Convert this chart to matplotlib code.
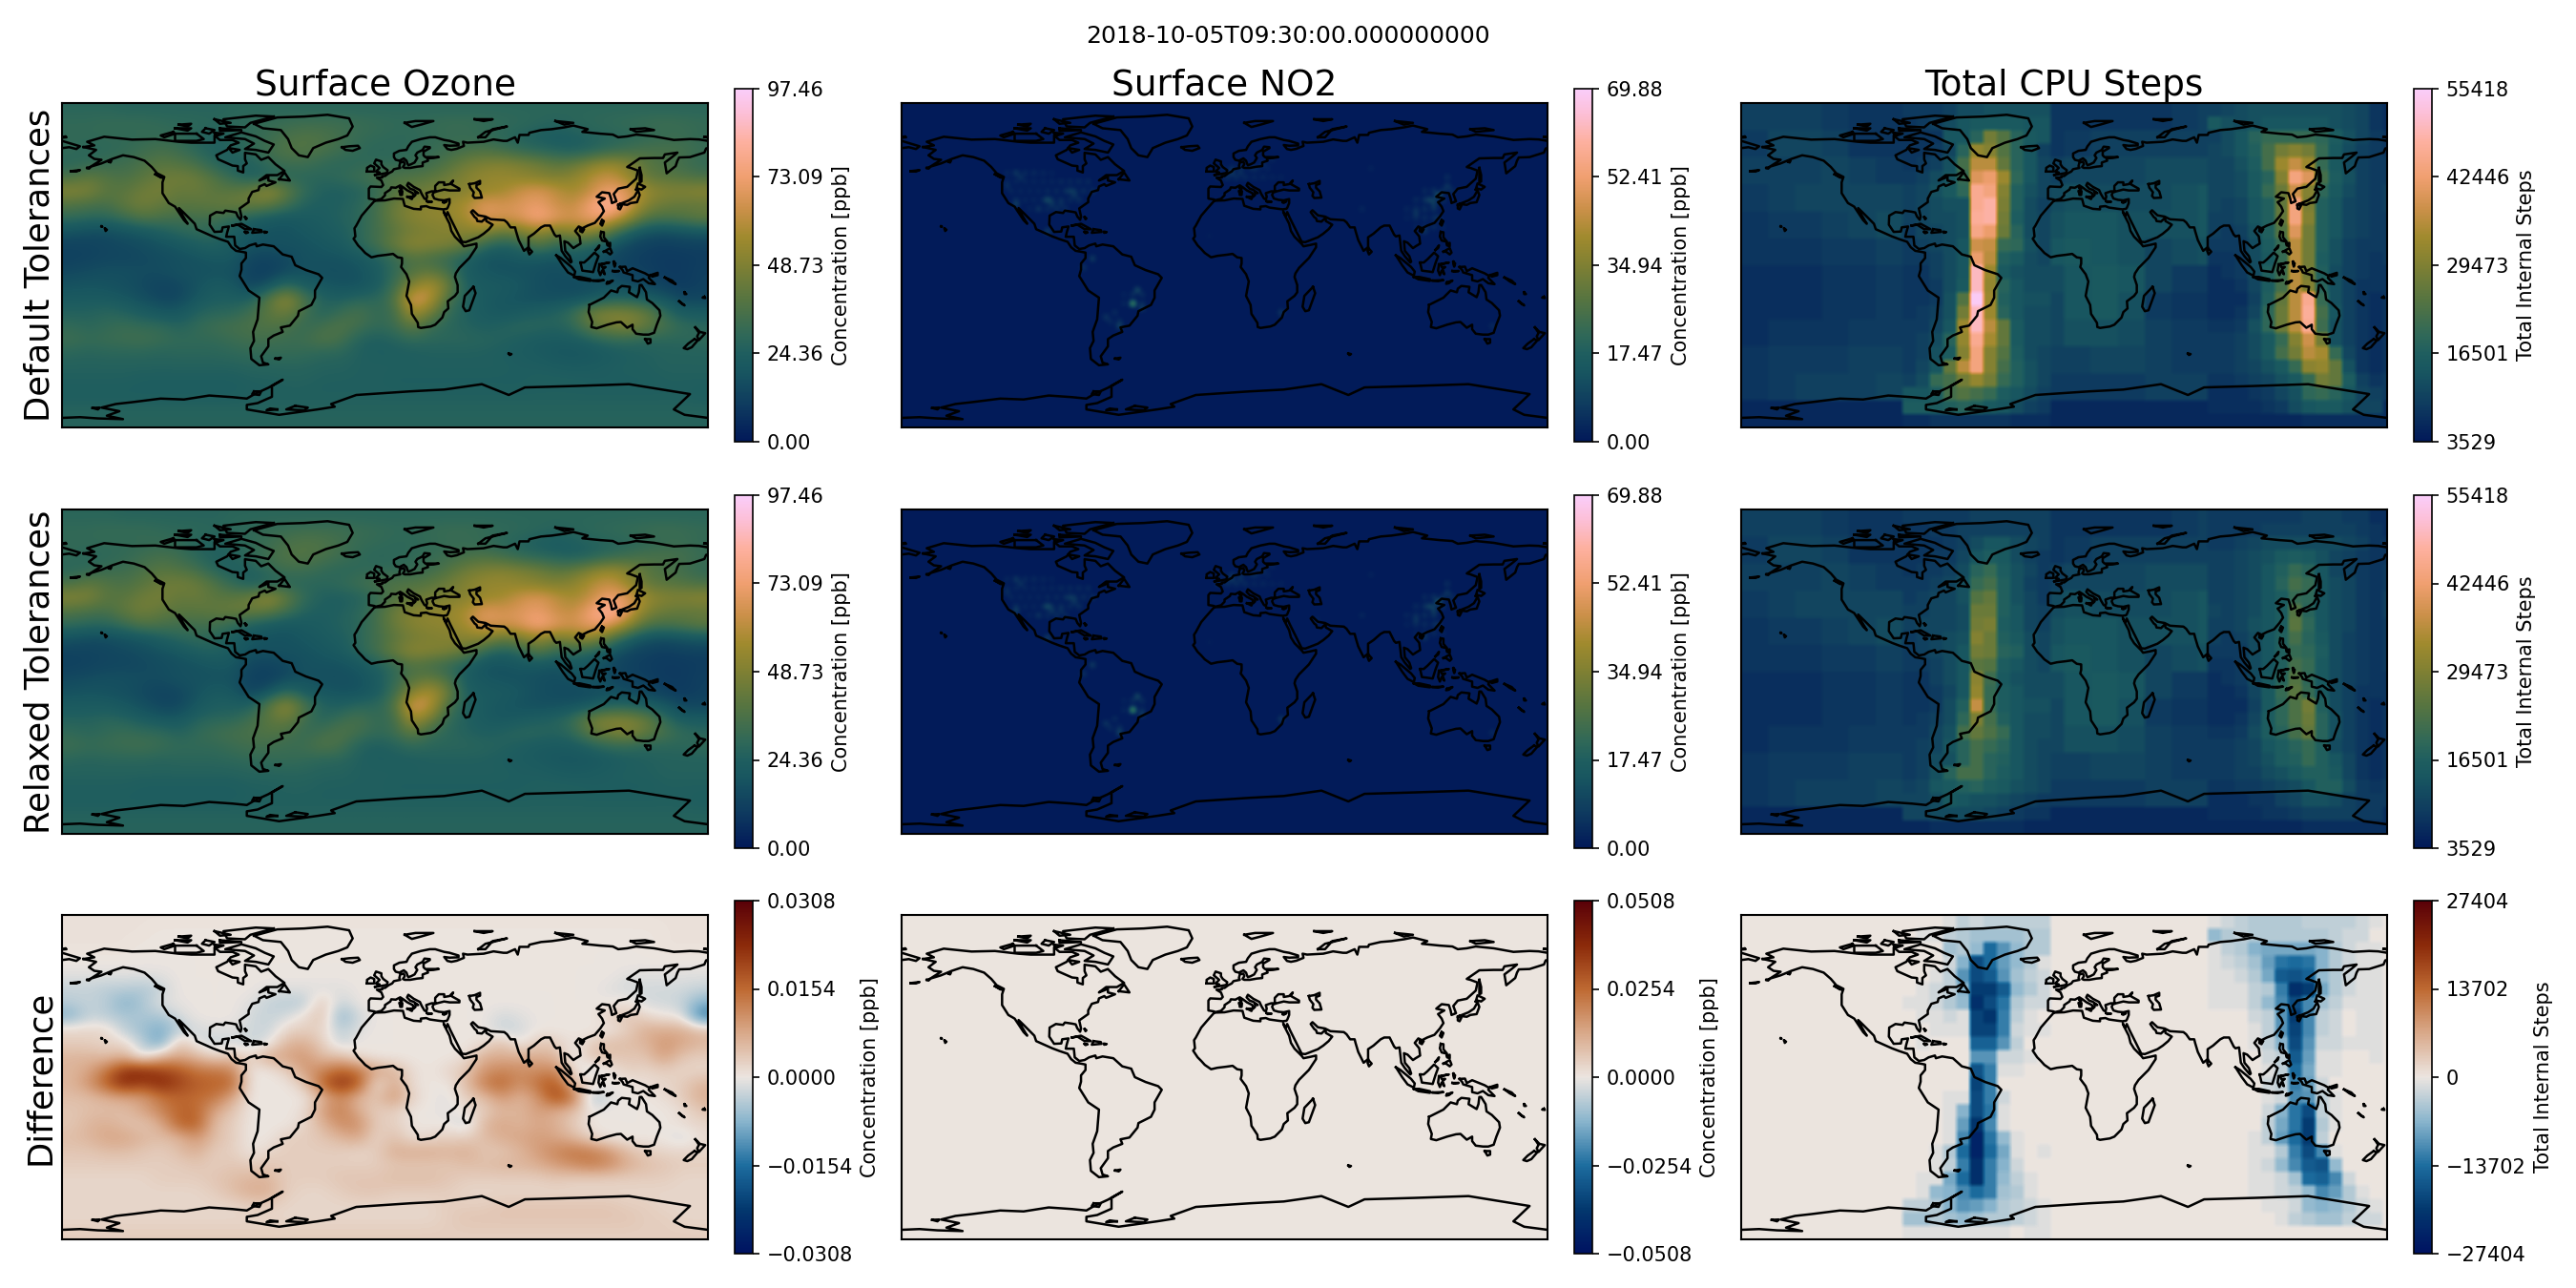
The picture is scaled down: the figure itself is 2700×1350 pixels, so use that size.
import numpy as np
import matplotlib
matplotlib.use("Agg")
import matplotlib.pyplot as plt
from matplotlib.colors import LinearSegmentedColormap

TITLE = "2018-10-05T09:30:00.000000000"
COL_TITLES = ["Surface Ozone", "Surface NO2", "Total CPU Steps"]
ROW_TITLES = ["Default Tolerances", "Relaxed Tolerances", "Difference"]
O3_MAX, NO2_MAX = 97.46, 69.88
O3_DIFF_MAX, NO2_DIFF_MAX = 0.0308, 0.0508
CPU_MIN, CPU_MAX, CPU_DIFF_MAX = 3529, 55418, 27404
O3_TICKS = ["0.00", "24.36", "48.73", "73.09", "97.46"]
NO2_TICKS = ["0.00", "17.47", "34.94", "52.41", "69.88"]
CPU_TICKS = ["3529", "16501", "29473", "42446", "55418"]
O3D_TICKS = ["\u22120.0308", "\u22120.0154", "0.0000", "0.0154", "0.0308"]
NO2D_TICKS = ["\u22120.0508", "\u22120.0254", "0.0000", "0.0254", "0.0508"]
CPUD_TICKS = ["\u221227404", "\u221213702", "0", "13702", "27404"]

# Surface ozone, ppb; rows 86.25N..86.25S every 7.5 deg, columns 175W..175E every 10 deg
O3 = [
[28,28,28,27,27,27,27,27,27,28,28,28,28,28,28,28,28,28,28,28,28,28,28,28,28,28,28,28,28,28,28,28,28,28,28,28],
[30,30,31,31,31,30,29,29,28,29,30,31,32,33,33,33,32,31,30,30,31,32,32,31,30,29,28,27,28,29,30,31,32,33,32,31],
[30,30,30,30,30,31,30,27,25,27,30,32,36,38,37,34,31,30,29,29,30,31,31,30,28,26,24,22,24,26,27,28,29,31,32,30],
[30,28,29,30,33,35,33,28,25,26,30,34,38,38,36,33,30,28,29,30,31,33,35,37,34,30,28,26,24,26,30,33,36,36,35,32],
[28,30,32,33,36,40,38,35,27,24,25,30,33,33,30,28,29,30,30,31,33,38,45,48,50,48,45,40,42,50,55,50,40,36,34,30],
[36,42,38,36,40,44,46,44,38,30,24,26,28,28,28,30,33,36,38,38,40,45,50,54,54,52,50,48,52,60,64,55,42,40,38,36],
[50,48,40,40,45,47,42,44,40,40,44,54,42,30,25,24,26,30,38,42,46,48,50,54,56,64,68,62,56,63,74,68,55,50,50,52],
[38,36,35,42,46,42,40,40,42,44,44,42,34,26,24,25,28,34,44,50,52,54,58,70,66,68,72,64,62,75,84,68,50,44,42,42],
[30,28,28,32,38,36,34,34,34,30,25,22,20,22,23,26,28,34,44,50,52,52,58,68,66,68,78,70,65,74,70,55,38,36,38,42],
[18,16,16,18,20,24,28,30,28,24,20,18,18,20,22,24,28,34,40,46,48,50,50,52,42,48,54,46,52,52,40,25,18,16,18,20],
[13,13,14,15,16,18,20,24,26,22,18,18,18,18,20,22,28,34,44,52,50,48,42,30,25,28,40,30,30,28,20,14,12,11,12,12],
[12,13,14,14,15,16,17,18,20,20,14,13,15,18,18,18,20,25,30,38,34,30,25,18,18,20,20,18,22,18,15,12,11,10,10,11],
[15,16,17,17,16,16,18,18,18,18,12,11,15,18,17,17,18,22,30,38,42,35,22,20,18,18,17,16,18,20,15,13,12,10,10,12],
[18,19,18,17,15,13,14,18,22,20,13,18,30,22,20,18,18,22,32,50,60,45,24,22,22,20,17,16,15,16,18,15,15,12,10,12],
[22,22,22,20,17,14,14,20,24,24,24,40,54,36,26,24,28,28,36,70,62,35,26,22,20,18,17,17,18,20,25,26,22,20,14,14],
[26,26,28,26,23,20,20,26,28,28,34,40,45,34,26,32,36,30,32,58,46,30,25,22,20,22,24,26,32,46,50,48,44,30,22,22],
[30,28,30,32,30,30,26,30,33,35,36,38,36,30,34,38,34,30,32,42,32,28,26,24,26,28,28,26,30,42,46,50,42,36,30,28],
[33,31,32,33,34,32,30,30,30,32,34,34,32,33,38,35,26,24,26,30,28,28,28,27,26,24,22,22,22,26,30,30,28,28,28,30],
[28,27,28,28,28,27,28,28,28,29,30,30,31,30,28,28,25,24,24,24,25,25,25,25,24,23,22,20,20,20,22,24,25,26,26,26],
[26,26,26,26,26,26,26,26,26,26,27,27,27,27,26,26,25,25,25,25,25,25,25,25,25,24,24,23,22,23,24,25,25,26,26,26],
[25,25,25,25,24,24,24,24,24,24,25,25,26,26,25,25,25,25,24,24,24,24,24,24,24,24,25,25,25,24,24,24,24,25,25,25],
[24,24,24,24,24,24,24,24,24,24,25,25,25,25,25,25,25,25,25,25,25,25,25,25,25,25,25,25,25,25,25,25,25,25,25,24],
[26,26,26,26,26,26,26,26,26,26,26,26,26,26,26,26,26,26,26,26,26,26,26,26,26,26,26,26,26,26,26,26,26,26,26,26],
[27,27,27,27,27,27,27,27,27,27,27,27,27,27,27,27,27,27,27,27,27,27,27,27,27,27,27,27,27,27,27,27,27,27,27,27],
]
# Relaxed minus default ozone, in 0.001 ppb, same grid
O3_DIFF_MILLI = [
[.5,.5,.5,.5,.5,.5,.5,.5,.5,.5,.5,.5,.5,.5,.5,.5,.5,.5,.5,.5,.5,.5,.5,.5,.5,.5,.5,.5,.5,.5,.5,.5,.5,.5,.5,.5],
[.5,.5,.5,.5,.5,0,0,0,0,0,0,0,0,0,0,0,0,0,0,0,0,0,0,0,0,0,0,0,0,0,0,0,0,.5,.5,.5],
[.5,.5,.5,.5,0,0,0,0,0,0,0,0,0,0,0,0,0,0,0,0,0,0,0,0,0,0,0,0,0,0,0,0,0,.5,.5,.5],
[0,0,0,0,0,0,0,0,0,0,0,0,0,0,0,0,0,0,0,0,0,0,0,0,0,0,0,0,0,0,0,0,0,0,0,0],
[-1,-1,-1,-1,-1,-1,0,0,0,0,0,0,0,0,0,0,0,0,0,0,0,0,0,0,0,0,0,0,0,0,0,-1,-1,-1,-1,-1],
[-3,-3,-4,-4,-5,-3,0,0,0,0,0,-1,-1,-1,-1,-1,0,0,0,0,0,0,0,0,0,0,0,0,0,0,-1,-2,-2,-2,-2,-3],
[-4,-3,-4,-8,-5,-1,-.5,0,0,0,-1,-3,-4,-4,4,-3,0,0,0,0,0,0,0,0,0,0,0,0,0,0,0,1,-2,-2,-3,-8],
[-8,-3,-4,-5,-5,-5,-2,0,0,0,-2,-3,-2,1,5,-8,-2,0,0,0,0,0,0,0,-2,-1,0,0,0,0,3,4,2,0,0,-14],
[2,2,2,-4,-6,-9,-4,-2,-1,-1,-2,-3,2,3,2,-4,-1,0,0,0,0,0,0,0,-3,-2,0,0,0,0,0,3,7,7,7,5],
[3,3,2,2,-4,-10,5,-1,-3,-2,-3,-1,6,7,3,-3,0,0,0,0,0,0,0,1,5,-1,4,3,0,3,5,5,6,10,8,6],
[6,6,5,7,-2,6,8,6,2,5,2,8,8,10,5,5,1,0,0,0,0,0,1,7,7,7,7,6,-2,5,4,4,4,9,4,3],
[6,8,14,22,24,20,18,14,14,12,0,0,3,9,12,16,14,8,6,1,0,2,4,10,12,11,11,12,1,-3,0,3,2,3,2,2],
[6,10,17,24,20,24,20,17,16,16,0,0,0,4,16,23,18,0,8,1,0,0,5,13,16,10,15,18,5,2,0,0,1,2,3,6],
[5,5,7,8,9,14,16,15,14,8,0,0,0,0,6,12,6,4,10,2,0,-1,3,5,10,6,10,20,14,-6,-1,0,0,1,3,7],
[4,5,5,5,8,12,16,16,8,4,0,0,0,1,9,13,7,3,3,0,0,-1,1,3,6,6,9,7,5,0,0,0,0,0,1,4],
[4,6,7,5,4,7,16,17,5,3,0,0,0,2,6,11,11,3,3,0,0,0,-3,6,8,6,8,7,3,0,0,0,0,0,1,2],
[5,6,8,8,6,5,6,10,5,3,0,0,3,3,4,6,8,2,5,1,2,3,3,5,7,8,9,8,6,2,0,0,0,0,-2,1],
[4,4,5,5,4,3,5,7,3,3,0,2,3,3,3,3,2,3,7,7,7,6,7,4,4,6,9,12,14,13,10,5,3,2,2,2],
[3,3,3,3,3,3,3,4,3,4,3,4,3,3,3,3,3,3,4,4,4,4,5,5,6,6,7,9,11,13,11,7,5,4,3,3],
[2,2,2,2,2,3,3,3,4,5,6,6,3,3,3,4,4,4,5,5,5,4,3,3,3,3,3,4,3,3,3,3,3,3,2,2],
[2,2,2,2,2,2,2,2,3,5,7,7,3,2,2,3,4,4,3,3,3,3,2,2,2,2,2,2,2,2,2,2,2,2,2,2],
[2,2,2,2,2,2,2,2,2,2,3,3,2,2,2,2,2,2,2,2,2,3,3,3,4,4,4,4,4,4,4,3,3,2,2,2],
[2,2,2,2,2,2,2,2,2,2,2,2,2,2,2,2,2,2,2,2,2,3,4,4,4,4,4,4,4,4,4,4,3,3,2,2],
[3,3,3,3,3,3,3,3,3,3,3,3,3,3,3,3,3,3,3,3,3,3,3,3,3,3,3,3,3,3,3,3,3,3,3,3],
]

# Surface NO2: ocean level, the broad glow over land, then the spots readable above it
NO2_BACKGROUND = 0.6
NO2_LON = [-122,-117,-112,-107,-102,-97,-92,-87,-82,-77,-120,-115,-110,-105,-100,-95,-90,-85,-80,-75,-117,-112,-107,-102,-97,-92,-87,-82,-122,-117,-112,-107,-102,-97,-110,-105,-100,-95,-90,
           -3,2,7,12,17,22,27,32,-2,3,8,13,18,23,112,117,122,127,107,112,117,122,102,107,112,117,102,107,112,117,107,112,117,122,-47,-52,-57,-47,-52,-57,-62,-60,-65,
           -51,-49,-47,-60,-66,-75,-79,30,-99,-96,-117,-114,-87,-84,-121,-117,-99,-105,-81,-92,3,0,8,15,22,27,118,124,123,113,106,119,110,116,75,82,149,50,-9]
NO2_LAT = [47,47,47,47,47,47,47,47,47,47,42,42,42,42,42,42,42,42,42,42,37,37,37,37,37,37,37,37,52,52,52,52,52,52,32,32,32,32,32,
           50,50,50,50,50,50,50,50,53,53,53,53,53,53,42,42,42,42,37,37,37,37,32,32,32,32,27,27,27,27,22,22,22,22,-17,-17,-17,-22,-22,-22,-27,-32,-32,
           -20,-14,-23,-34,-28,5,-2,-26,37,33,52,49,41,38,43,35,20,32,37,35,52,50,51,55,56,59,40,45,50,36,30,27,20,33,32,54,-33,30,16]
NO2_VAL = [4,4,4,4,4,4,5,5,5,5,4,4,4,4,5,5,6,7,6,6,6,4,4,5,6,6,5,5,4,6,5,5,4,3,3,4,5,6,5,
           5,7,6,5,4,4,3,3,3,6,5,4,3,3,5,7,7,6,5,7,9,6,4,6,7,7,3,5,6,6,3,5,5,3,6,6,3,6,7,4,5,6,5,
           42,14,10,12,8,10,7,9,15,8,9,7,9,8,6,11,11,8,6,6,9,6,6,6,5,4,21,9,6,11,8,6,7,9,4,3,5,3,2]

# CPU steps, thousands: background on 15 deg cells, rows 82.5N..82.5S, columns 172.5W..172.5E
CPU_BG = [
[10,10,10,9,8,8,8,9,11,11,11,8,8,8,8,8,9,10,10,11,11,11,10,7],
[9,11,11,10,8,8,8,9,10,10,10,8,9,10,10,10,10,10,10,10,11,11,9,8],
[10,10,10,11,10,9,8,10,11,11,11,10,11,11,11,12,12,12,13,11,11,11,10,9],
[9,10,11,11,11,11,11,13,14,14,11,12,13,12,12,12,13,14,14,14,14,12,11,10],
[8,9,9,10,11,12,12,12,13,13,12,13,14,14,13,13,13,14,14,14,14,12,10,9],
[8,8,8,9,9,10,10,11,13,13,13,14,15,14,13,11,12,13,14,14,14,12,10,9],
[7,7,7,8,8,9,10,11,13,13,12,12,14,15,14,11,9,9,10,12,14,11,9,8],
[7,7,7,8,8,9,10,12,13,13,12,11,14,15,13,9,8,8,9,12,14,11,9,8],
[7,8,8,8,9,9,10,12,13,12,11,11,13,13,12,10,9,9,10,12,13,11,9,8],
[8,9,9,9,10,10,11,12,12,12,11,10,10,11,11,10,9,9,10,11,12,10,9,8],
[8,9,10,10,10,11,12,12,12,11,9,9,9,9,9,10,10,10,10,11,11,11,10,9],
[6,6,6,6,6,6,6,7,7,7,6,6,6,6,6,6,6,6,6,6,7,7,7,7],
]
# Western band, thousands: rows 7.5 deg from 90N, columns 7.5 deg from 90W
CPU_WEST_DEFAULT = [
[9,9,9,10,12,12,13,13,13,13,13],
[8,9,10,12,14,15,15,15,15,14,14],
[8,8,8,14,14,18,28,24,18,15,14],
[8,8,9,11,18,32,30,24,18,14,10],
[8,9,10,13,22,36,36,26,18,14,11],
[9,10,12,14,20,40,42,33,19,14,11],
[10,11,13,15,19,46,44,30,17,13,11],
[10,11,12,13,13,46,48,29,17,12,10],
[10,11,12,12,13,47,48,28,16,12,11],
[9,11,11,12,13,45,42,27,18,12,11],
[9,10,11,12,14,38,37,20,19,13,11],
[9,9,10,12,14,42,36,17,15,12,11],
[8,8,10,12,14,50,33,15,13,12,12],
[8,8,9,12,15,50,32,18,14,12,12],
[8,8,9,13,24,55,33,17,14,13,13],
[8,9,10,13,28,50,33,18,14,12,12],
[9,9,11,14,33,50,36,26,15,12,12],
[9,10,12,18,32,46,34,26,15,12,12],
[9,10,13,16,30,44,30,24,16,12,11],
[9,11,14,26,36,44,30,22,17,13,11],
[10,12,20,22,28,32,28,20,17,13,11],
[14,14,16,22,24,22,20,16,14,12,10],
[16,16,16,17,18,17,15,14,12,10,9],
[7,7,8,8,8,8,8,8,7,7,7],
]
CPU_WEST_RELAXED = [
[9,9,9,9,9,10,10,10,10,10,10],
[8,8,9,9,10,10,10,10,10,10,10],
[8,8,8,9,10,12,14,14,12,11,10],
[8,8,9,9,11,14,16,15,12,10,9],
[8,9,9,10,12,18,20,16,13,11,9],
[9,9,10,11,13,20,22,17,13,10,9],
[9,10,11,11,13,24,26,17,13,11,9],
[10,10,11,11,12,27,27,17,14,11,10],
[10,11,11,11,12,28,29,16,14,11,10],
[9,10,11,12,13,30,27,17,15,12,11],
[9,10,11,12,14,28,27,18,17,12,11],
[9,9,10,12,14,25,24,16,14,12,11],
[8,8,10,12,14,31,21,15,13,12,12],
[8,8,9,11,14,32,20,16,14,12,12],
[8,8,9,12,17,37,20,16,14,13,13],
[8,9,10,12,19,29,22,17,14,12,12],
[9,9,11,13,22,26,23,20,14,12,12],
[9,10,11,14,18,22,20,18,14,12,11],
[9,10,12,13,18,22,18,17,14,12,11],
[9,10,13,18,22,22,18,16,14,12,11],
[10,11,14,15,17,18,16,15,13,12,11],
[11,11,12,15,14,13,13,12,11,10,9],
[11,11,12,12,12,12,11,10,9,8,8],
[6,6,7,7,7,7,7,7,7,6,6],
]
# Eastern band, thousands: rows 7.5 deg from 90N, columns 7.5 deg from 80E
CPU_EAST_DEFAULT = [
[10,11,12,13,13,13,13,13,13,13,12,11,8],
[15,13,12,13,14,14,14,14,14,13,12,11,8],
[10,12,14,18,20,20,20,20,19,16,13,11,9],
[11,12,14,17,22,28,30,28,20,15,12,10,9],
[11,11,13,16,22,33,37,33,20,15,12,10,9],
[11,11,12,15,18,30,44,40,22,16,13,10,9],
[11,11,12,15,20,27,38,30,19,15,12,10,9],
[11,10,11,14,17,26,44,29,17,14,11,10,9],
[10,10,11,14,17,26,44,30,17,14,11,10,9],
[10,9,10,13,17,24,40,28,17,14,11,10,9],
[9,9,9,12,16,20,36,28,17,13,10,9,9],
[8,8,9,12,15,20,36,28,16,13,10,9,8],
[7,8,9,12,17,21,36,28,17,12,10,9,8],
[7,7,8,11,16,22,36,30,18,13,10,8,8],
[7,7,7,10,17,26,36,46,20,13,10,8,7],
[7,7,8,11,19,27,36,47,22,14,10,8,7],
[8,8,9,13,19,27,36,46,21,13,10,8,7],
[9,9,10,12,15,20,30,38,28,13,10,8,7],
[9,9,10,12,15,22,28,36,34,20,11,8,7],
[9,9,10,11,13,15,20,31,32,26,13,8,7],
[8,8,9,10,11,13,15,20,28,26,16,10,8],
[7,7,7,8,9,11,13,19,20,18,14,11,10],
[7,7,7,7,8,9,12,14,15,15,13,11,11],
[6,6,6,6,6,6,6,7,7,7,7,7,7],
]
CPU_EAST_RELAXED = [
[9,9,9,9,9,9,9,10,10,10,9,9,7],
[9,9,9,9,10,10,10,10,10,10,10,9,8],
[9,9,10,11,12,12,12,12,12,12,11,10,8],
[10,10,11,12,13,15,16,15,13,11,10,9,8],
[10,10,11,12,14,17,20,18,14,11,10,9,8],
[10,10,11,12,14,18,22,20,14,12,11,9,8],
[10,10,11,12,14,16,20,19,14,12,11,9,8],
[11,10,11,12,14,16,24,18,14,12,11,9,8],
[10,10,11,13,14,16,25,19,14,12,11,9,8],
[10,9,10,12,14,17,22,18,15,12,10,9,8],
[9,9,9,12,14,17,20,19,16,12,10,9,8],
[8,8,9,12,14,17,22,20,15,12,10,9,8],
[7,8,9,12,15,18,24,19,15,12,10,9,8],
[7,7,8,11,15,20,25,20,15,12,10,8,8],
[7,7,7,10,15,19,23,28,17,12,10,8,7],
[7,7,8,11,16,19,23,27,18,13,10,8,7],
[8,8,9,12,16,18,22,26,18,13,10,8,7],
[9,9,10,11,14,16,18,20,17,12,10,8,7],
[9,9,10,11,13,16,17,20,17,14,11,8,7],
[9,9,10,10,12,13,15,17,17,15,11,8,7],
[8,8,9,9,10,11,12,14,17,17,12,9,8],
[7,7,7,8,8,10,11,13,13,12,10,9,9],
[7,7,7,7,8,8,9,10,10,10,10,9,9],
[6,6,6,6,6,6,6,7,7,7,7,7,7],
]

# Coastlines as (lon, lat)
EURASIA = [(180,69),(175,69.8),(170,70),(161,69.5),(160,69.7),(150,71.5),(140,72.5),(135,71.5),(130,71),(127,72.5),(120,73),(113,73.7),(110,74),(113,75.5),(105,77.5),(100,76.5),(93,75.5),(87,75),(80.5,73.5),(80,72.3),(75,72.3),(74,68),(72.5,71),(68,69),(66,69),(60.5,69.8),(55,68.5),(46,68),(43.5,68.5),(44,66.2),(40,64.6),(37,64),(34.8,64.5),(33,66.7),(36,66.3),(41,66.5),(41,67.5),(36,69),(33,69.5),(28,71),(25,71),(20,70),(15,68.5),(13,66),(12,64),(8,63.5),(5,62),(5,60),(6,58.5),(8,58),(10.5,59.3),(12,58),(12.5,56.5),(13,55.5),(14.5,56),(16.5,57),(18,59.5),(17,61),(18,62.5),(21,64),(22,65.8),(25,65.5),(25,65),(21.5,63),(21.5,61),(22.5,60),(30,60),(27,59.5),(23.5,59.3),(24,58),(21,57),(21,55),(18,54.7),(14,54),(11,54),(10,54.5),(11,56),(10.5,57.5),(8.5,57),(8,55),(8.5,54),(5,53.3),(4,52),(2,51),(0,49.5),(-1.5,49.5),(-1.5,48.7),(-4.5,48.5),(-2,47),(-1,44.5),(-2,43.4),(-8,43.7),(-9,42.5),(-9,39),(-9,37),(-6,36.5),(-5.5,36),(-2,36.8),(0,38.8),(0,40),(3,42),(3.5,43.2),(6,43),(8.5,44.3),(10.5,43),(12.5,41.5),(15.5,40),(16,38),(17,39),(17,40.5),(18.5,40),(16,41.8),(14,42.5),(12.3,44.3),(13,45.7),(14,45),(16,43.5),(19.5,41.7),(20.5,39.5),(22,37),(23,36.5),(23.5,38),(23,40),(26,41),(28,41),(28,42),(28,44),(30,46),(33,46),(33,44.5),(36,45),(38,47),(37,45),(41.5,42.5),(41.5,41.5),(36,41.5),(33,42),(29,41),(27,40.3),(26.5,39),(27.5,37),(30,36.3),(33,36),(36,36.7),(36,34.5),(35,32),(34.5,31.3),(32.5,31),(30,31.3),(25,32),(23,32.8),(20,32.5),(20,31),(16,31.3),(11,33),(10,36.8),(5,37),(0,36),(-5.5,35.8),(-6,35.5),(-10,31),(-13,27.5),(-16,22),(-17,20.5),(-16.5,16),(-17.5,14.7),(-15,11),(-13,9),(-11,6.8),(-7.5,4.4),(-4,5.2),(1,5.8),(4.5,6.3),(7,4.4),(9.5,4),(9.5,1),(9,-1),(12,-5),(13.5,-9),(12,-17),(14.5,-22),(15,-27),(18.3,-32),(18.5,-34.3),(20,-34.8),(25.5,-34),(28,-33),(32,-29),(33,-26),(35.3,-24),(35,-20),(39,-17),(40.5,-15),(40.5,-11),(39,-6.5),(39.5,-4.5),(41.5,-1.5),(47,4),(51,10),(51,12),(48,11.3),(44,10.5),(43,11.8),(39,15.8),(37,19),(36,23),(33.8,27.3),(32.7,29.8),(33.5,28),(34.3,27.8),(34.9,29.5),(36.5,26),(39,21),(41,17),(43,13),(45,12.8),(52,15.5),(55,17.5),(58,20),(60,22.5),(56.5,24.5),(56.2,26.3),(54,24.2),(51.5,24.5),(51,26),(50,26.7),(48,29.5),(49,30.5),(52,27.7),(56,27),(59,25.5),(66.5,25),(68,23.8),(70,21),(72.5,21),(73,19),(74.5,14),(77.5,8),(80,10),(80,15.5),(83,17.5),(87,21),(89,22),(92,22),(94.5,17),(95.5,16),(97.5,16.5),(98.5,8),(100.5,5),(103.5,1.5),(104,2),(103,5),(100.5,8),(100,13.3),(102,12.5),(105,9.5),(106.5,10.5),(109,12),(108.5,16),(106,19),(108,21.5),(110,20.5),(113,22),(117,23.5),(120,27),(122,30),(121,32.5),(119,35),(122.5,37),(118,38),(121,40.5),(125,40),(126,37),(126.5,34.5),(129,35.5),(127.5,39.5),(130,42.5),(135,43.5),(140,48),(141,52.5),(137,54),(135,54.5),(142,59.3),(150,59.5),(155,59.5),(156,61.5),(163,62.5),(160,60),(156,57),(157,51),(162,55),(163,58),(164,59.8),(170,60),(178,62.5),(179,64.8),(180,65)]
CHUKOTKA = [(-180,69),(-175,67.5),(-170,66),(-172,64.5),(-176,65.5),(-180,65)]
AMERICAS = [(-168,65.6),(-162,66.5),(-166,68.5),(-156.5,71.3),(-141,69.7),(-128,70),(-115,68.5),(-108,68),(-95,68),(-95,72),(-92,69.5),(-85,69.5),(-81.5,68),(-86,66.5),(-88,64),(-94,61),(-93,58.8),(-85,55.3),(-82,55),(-82,52.5),(-79,51.5),(-79,55),(-77,56.5),(-78,58.8),(-78,62.4),(-72,61.5),(-69,58.5),(-65,60),(-61,56),(-56,52.3),(-60,50),(-66,50),(-70,47),(-65,49),(-65,47),(-61,46),(-66,44),(-67,45),(-70,43.7),(-70.5,41.7),(-74,40.7),(-76,37),(-76,35),(-81,31.5),(-80,27),(-80.5,25.2),(-82,27),(-83,29.3),(-85,29.7),(-89,30.3),(-90,29),(-94,29.5),(-97.5,27.5),(-97.7,22.5),(-95,18.5),(-91,18.7),(-90.5,21),(-87,21.5),(-88,18),(-88.5,15.8),(-84,15.8),(-83.5,11),(-81,9),(-78,9.5),(-75.5,11),(-72,12),(-71.5,10.5),(-68,11.5),(-62,10.5),(-57,6),(-52,4.7),(-50,0),(-44,-2.7),(-37,-5),(-35,-7),(-39,-14),(-39,-18),(-41,-22),(-48,-25.5),(-48.5,-28),(-53,-33.5),(-58,-34.5),(-57,-37),(-62,-39),(-65,-41),(-65,-45),(-69,-50.5),(-68,-54),(-65,-55),(-70,-55.5),(-74.5,-52),(-75,-46),(-73,-42),(-73.5,-37),(-71,-30),(-70,-18),(-76,-14),(-81,-6),(-80,-2.5),(-80,1),(-77.5,4),(-77.5,7),(-80,7.5),(-83,8),(-85.5,10),(-87.5,13),(-92,14.5),(-96,16),(-105,20),(-106,23),(-112,29),(-114.8,31.7),(-113,28),(-110,23),(-112,25),(-117,32.5),(-120.5,34.5),(-124,40),(-124,46),(-123,49),(-127,51),(-130,54.5),(-134,58),(-140,60),(-146,61),(-152,59),(-158,56.5),(-164,54.7),(-158,58.5),(-162,59),(-165,61),(-161,64),(-168,65.6)]
ANTARCTICA_W = [(-180,-84.7),(-170,-84.3),(-160,-85),(-146,-85.4),(-155,-83.5),(-148,-81),(-158,-79),(-150,-77),(-141,-76),(-125,-74),(-112,-74.5),(-98,-72.3),(-85,-73.2),(-77,-74),(-72.7,-71.5),(-65,-68),(-57,-63.5),(-63,-67),(-63,-73),(-71,-76.5),(-77,-77.5),(-77,-80),(-59,-83),(-37.5,-80),(-28,-78.5),(-30,-77),(-16,-72),(14,-70),(33,-69),(54,-66),(69,-72),(78,-67.8),(106,-67),(136,-66),(170,-71.5),(161,-80),(167,-83),(180,-84.7)]
GREENLAND = [(-73,78.5),(-60,82),(-45,82.5),(-32,83.5),(-20,81.5),(-18,77),(-21,72),(-26,70),(-33,68),(-40,65),(-43,60),(-48,61),(-52,65),(-54,70),(-58,75),(-68,76),(-73,78.5)]
AUSTRALIA = [(114,-22),(113.5,-26),(115.5,-31.5),(115,-34.3),(118,-35),(124,-33),(129,-31.7),(131.5,-31.5),(135,-34.7),(138,-33),(138,-35.5),(140,-38),(144,-38.5),(147,-38.5),(150,-37.5),(151.5,-33),(153.5,-28),(153,-25),(149,-21),(146,-19),(145.5,-15),(143,-11),(142,-11),(141.5,-15),(140.5,-17.7),(136,-15),(136.5,-12),(132,-11.5),(130,-13),(129.5,-15),(126,-14),(122,-18),(114,-22)]
ISLANDS = [
[(-80,73.7),(-72,71.5),(-67,69),(-62,67),(-65,62.5),(-72,64),(-78,64.5),(-73,67.5),(-78,70),(-89,71),(-80,73.7)],
[(-105,73),(-117,73),(-117,69),(-105,69),(-101,70),(-105,73)],
[(-62,82.5),(-72,83),(-90,81),(-88,77),(-78,76.5),(-75,79),(-62,82.5)],
[(-118,74),(-125,72),(-123,71),(-117,73),(-118,74)],
[(-92,76),(-80,75),(-92,74.5),(-92,76)],
[(-95,81),(-86,79),(-92,78.5),(-95,81)],
[(-117,76),(-108,76),(-110,74.7),(-117,76)],
[(-100,76),(-95,75),(-98,73),(-102,74),(-100,76)],
[(-95,73.5),(-90,73),(-94,71.8),(-95,73.5)],
[(-115,78),(-108,78.5),(-110,77),(-115,78)],
[(-87,65),(-81,64),(-85,62.5),(-87,65)],
[(-24,65.5),(-20,66),(-15,66.3),(-14,65),(-18,63.5),(-22,64),(-24,65.5)],
[(-5.5,50),(1,51.2),(1.5,52.7),(-1,54.5),(-2,56),(-2,57.6),(-5,58.6),(-6,56.5),(-3,54),(-5,52),(-3,51.5),(-5.5,50)],
[(-10,52),(-6,52),(-6,54.5),(-8,55.3),(-10,54),(-10,52)],
[(11,79),(17,80),(27,80),(20,78),(15,76.7),(11,79)],
[(52,71),(56,74),(68,77),(60,75.5),(56,71),(52,71)],
[(95,80),(105,79),(100,78),(95,80)],
[(50,81),(60,81),(55,80),(50,81)],
[(137,75.5),(145,76),(150,75),(140,74),(137,75.5)],
[(-180,71),(-178,71.5),(-177.5,71),(-180,70.8)],
[(178,71.2),(180,71),(180,70.8),(178,71.2)],
[(47,45),(50,45.5),(53,46.8),(53,45.2),(51,44.5),(51,43),(53,41),(54,37.5),(50,37.3),(49,38.5),(49.5,40.5),(47.5,43),(47,45)],
[(142,54),(143,50),(143,46.5),(142,46),(142,50),(142,54)],
[(140,42),(141,45.4),(145,43.5),(143,42),(141,42.5),(140,42)],
[(131,34),(136,36),(139,38),(141,41.5),(142,39),(140.5,35),(137,34.5),(135,33.5),(131,34)],
[(130,33.5),(132,33),(131,31),(130,31.5),(130,33.5)],
[(121,25),(122,24.5),(121,22),(120,23),(121,25)],
[(109,20),(111,20),(110,18.3),(108.7,19),(109,20)],
[(120.5,18.5),(122,18.3),(122,15.5),(124,13),(121,13.7),(120,16),(120.5,18.5)],
[(122,7.5),(125.5,9.5),(126.5,7),(125.5,6),(123.5,7.5),(122,7.5)],
[(124,12),(125.5,12.4),(125.5,10.5),(124,11),(124,12)],
[(117.5,8.5),(119.5,11),(119,9.5),(117.5,8.5)],
[(95.5,5.5),(98,4),(104,-1),(106,-3.5),(105.5,-5.8),(102,-4),(99,0),(95.5,5.5)],
[(105.5,-6.5),(108.5,-6.5),(114.5,-7.8),(114.5,-8.7),(108,-7.8),(105.5,-6.5)],
[(109,1.5),(111,1.5),(113,3.2),(116.8,7),(119,5),(117.5,1),(116,-3.8),(114,-3.5),(110,-3),(109,1.5)],
[(119.5,0.5),(125,1.5),(120.5,0.5),(121,-1),(123,-1),(121.5,-2),(122.5,-5),(121,-3),(120,-5.5),(119,-3),(119.5,0.5)],
[(131,-1),(134,-0.8),(135,-3.3),(138,-1.7),(145,-4.5),(147.5,-6),(147,-7),(150.5,-10.5),(147,-10),(144,-7.7),(141,-9),(138,-8.3),(138,-5.5),(133,-4),(132.5,-2.8),(131,-1)],
[(148,-5.5),(152,-4.2),(152,-5.5),(149,-6.3),(148,-5.5)],
[(124,-9.5),(127,-8.5),(125,-10),(123.5,-10.3),(124,-9.5)],
[(116,-8.5),(122,-8.3),(119,-8.8),(116,-8.5)],
[(127,-3.2),(130.5,-3.2),(128,-3.5),(127,-3.2)],
[(127.5,2),(128.5,1),(128,-0.8),(127.5,0.8),(127.5,2)],
[(156,-6.8),(160,-8.5),(162,-10.5),(159,-9),(156,-6.8)],
[(167,-15),(168,-16),(167,-16),(167,-15)],
[(164,-20),(167,-22.3),(165,-21),(164,-20)],
[(178,-17.5),(178.5,-18.2),(177,-18),(178,-17.5)],
[(80,9.7),(82,7.5),(80.5,6),(79.7,8),(80,9.7)],
[(49.3,-12),(50.5,-15.5),(47,-25),(45,-25.5),(43.5,-23),(44.5,-17),(49.3,-12)],
[(145,-41),(148,-41),(148,-43),(146.5,-43.5),(145,-41)],
[(173,-34.5),(175.5,-37),(178.5,-37.7),(175,-41.5),(174,-39.5),(175,-37.5),(173,-34.5)],
[(172.5,-41),(174.3,-41.7),(171,-45.5),(168.5,-46.6),(166.5,-46),(169,-43.5),(172.5,-41)],
[(-61,-51.8),(-58,-51.3),(-59,-52.3),(-61,-51.8)],
[(69,-49),(70.5,-49.3),(69.5,-49.8),(69,-49)],
[(-85,22),(-80,23),(-74.5,20),(-78,20),(-82,22.5),(-85,22)],
[(-73,20),(-69,19.5),(-68.5,18.5),(-74,18),(-73,20)],
[(-78,18.5),(-76.3,18.2),(-77.5,17.8),(-78,18.5)],
[(-67,18.5),(-65.7,18.4),(-67,18),(-67,18.5)],
[(-156,20.3),(-155,19.7),(-155.7,19),(-156,20.3)],
[(-158,21.6),(-157.5,21.3),(-158,21.3),(-158,21.6)],
[(-78,26.7),(-77,26),(-77.5,25.5),(-78,26.7)],
[(-128,50.5),(-123.5,48.5),(-125,48.7),(-128,50.5)],
[(-59,47.7),(-56,51.5),(-53,47),(-59,47.7)],
[(12.5,38),(15.5,38),(15,36.7),(12.5,38)],
[(8.2,41),(9.7,41),(9.5,39),(8.5,39),(8.2,41)],
[(8.6,43),(9.5,43),(9.3,41.5),(8.8,41.7),(8.6,43)],
[(23.5,35.5),(26.2,35.2),(24,35),(23.5,35.5)],
[(32.5,35),(34.5,35.5),(33,34.6),(32.5,35)],
[(-175,52.2),(-170,52.8),(-172,52),(-175,52.2)],
[(-166,54),(-164,54.6),(-165,53.6),(-166,54)],
[(-154,57.5),(-152.5,58),(-153,57),(-154,57.5)],
[(-50,-78),(-43,-79),(-45,-80.5),(-55,-80),(-50,-78)],
[(-73,-70),(-69,-70),(-70,-72),(-74,-71.5),(-73,-70)],
[(-60,-80),(-64,-79.5),(-66,-80.5),(-60,-80)],
[(-163,-79.2),(-159,-79),(-160,-80),(-163,-79.2)],
]

BATLOW = [(0,"#011959"),(.1,"#0e3a5f"),(.2,"#185660"),(.25,"#1f5e5f"),(.3,"#2f6858"),(.4,"#557441"),
          (.5,"#7f8033"),(.58,"#a08a2e"),(.66,"#cb9049"),(.75,"#f09f70"),(.85,"#fdb09f"),(.93,"#fcbfd6"),(1,"#facdfa")]
VIK = ["#001261","#03386e","#1d6d9f","#8ab5cd","#ece5e0","#d9a98a","#be6a32","#8b2a0a","#590008"]
batlow = LinearSegmentedColormap.from_list("batlow_like", BATLOW, 256)
vik = LinearSegmentedColormap.from_list("vik_like", VIK, 256)

o3 = np.array(O3, float)
o3_diff = np.array(O3_DIFF_MILLI, float) / 1000.0
no2 = np.full((72, 144), NO2_BACKGROUND)
for lo, la, v in zip(NO2_LON, NO2_LAT, NO2_VAL):
    no2[int((90 - la) // 2.5), int((lo + 180) // 2.5)] = v

def cpu_field(west, east):
    f = np.repeat(np.repeat(np.array(CPU_BG, float), 6, axis=0), 6, axis=1)
    f[:, 36:36 + 33] = np.repeat(np.repeat(np.array(west, float), 3, axis=0), 3, axis=1)
    f[:, 104:104 + 39] = np.repeat(np.repeat(np.array(east, float), 3, axis=0), 3, axis=1)
    return f * 1000.0

cpu_d = cpu_field(CPU_WEST_DEFAULT, CPU_EAST_DEFAULT)
cpu_r = cpu_field(CPU_WEST_RELAXED, CPU_EAST_RELAXED)

fig = plt.figure(figsize=(18, 9), dpi=150)
W, H = 2700.0, 1350.0
AX_X = [65, 945, 1825]
AX_Y = [108, 534, 959]
AX_W, AX_H = 677, 340
CB_OFF_X, CB_W, CB_OFF_Y, CB_H = 705, 19, -15, 370

panels = [
 [(o3, batlow, 0, O3_MAX, O3_TICKS, "Concentration [ppb]", "bicubic"),
  (no2, batlow, 0, NO2_MAX, NO2_TICKS, "Concentration [ppb]", "bicubic"),
  (cpu_d, batlow, CPU_MIN, CPU_MAX, CPU_TICKS, "Total Internal Steps", "bilinear")],
 [(o3 + o3_diff, batlow, 0, O3_MAX, O3_TICKS, "Concentration [ppb]", "bicubic"),
  (no2, batlow, 0, NO2_MAX, NO2_TICKS, "Concentration [ppb]", "bicubic"),
  (cpu_r, batlow, CPU_MIN, CPU_MAX, CPU_TICKS, "Total Internal Steps", "bilinear")],
 [(o3_diff, vik, -O3_DIFF_MAX, O3_DIFF_MAX, O3D_TICKS, "Concentration [ppb]", "bicubic"),
  (no2 - no2, vik, -NO2_DIFF_MAX, NO2_DIFF_MAX, NO2D_TICKS, "Concentration [ppb]", "bilinear"),
  (cpu_r - cpu_d, vik, -CPU_DIFF_MAX, CPU_DIFF_MAX, CPUD_TICKS, "Total Internal Steps", "bilinear")],
]

def draw_coast(ax):
    for seg in [EURASIA, CHUKOTKA, AMERICAS, ANTARCTICA_W, GREENLAND, AUSTRALIA] + ISLANDS:
        a = np.array(seg)
        ax.plot(a[:, 0], a[:, 1], color="black", lw=1.2, solid_joinstyle="round")

for r in range(3):
    for c in range(3):
        data, cmap, vmin, vmax, labels, clabel, interp = panels[r][c]
        x, y = AX_X[c], AX_Y[r]
        ax = fig.add_axes([x / W, 1 - (y + AX_H) / H, AX_W / W, AX_H / H])
        im = ax.imshow(data, cmap=cmap, vmin=vmin, vmax=vmax, extent=(-180, 180, -90, 90),
                       aspect="auto", interpolation=interp, origin="upper")
        draw_coast(ax)
        ax.set_xlim(-180, 180)
        ax.set_ylim(-90, 90)
        ax.set_xticks([])
        ax.set_yticks([])
        for s in ax.spines.values():
            s.set_linewidth(1.0)
        if r == 0:
            ax.set_title(COL_TITLES[c], fontsize=18, pad=4)
        if c == 0:
            ax.set_ylabel(ROW_TITLES[r], fontsize=17, labelpad=3)
        cax = fig.add_axes([(x + CB_OFF_X) / W, 1 - (y + CB_OFF_Y + CB_H) / H, CB_W / W, CB_H / H])
        cb = fig.colorbar(im, cax=cax)
        cb.set_ticks(np.linspace(vmin, vmax, 5))
        cb.set_ticklabels(labels)
        cb.ax.tick_params(labelsize=10)
        cb.set_label(clabel, fontsize=10)

fig.suptitle(TITLE, fontsize=12, y=1 - 38 / H, va="center", x=0.5)
fig.savefig("out.png", dpi=150)
